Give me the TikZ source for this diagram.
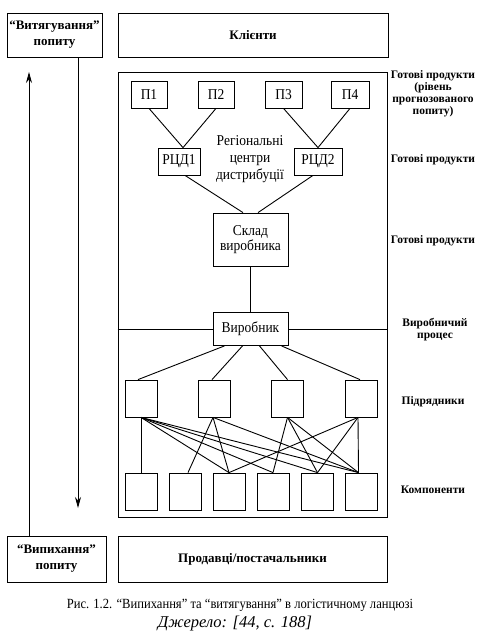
\documentclass[tikz,border=0pt]{standalone}
\usepackage{fontspec}
\setmainfont{Liberation Serif}
\newfontfamily\narrowfont[FakeStretch=0.9]{Liberation Serif}
\usetikzlibrary{arrows.meta,calc}
\begin{document}
\begin{tikzpicture}[x=1pt,y=-1pt,
 bigbox/.style={draw, line width=0.9pt, inner sep=0pt, align=center, font=\bfseries\fontsize{13}{16}\selectfont},
 smallbox/.style={draw, line width=0.8pt, inner sep=0pt, align=center, font=\narrowfont\fontsize{15}{15}\selectfont},
 sq/.style={draw, line width=0.8pt, inner sep=0pt, minimum width=32pt, minimum height=37pt},
 sidelabel/.style={align=center, font=\bfseries\fontsize{11.5}{12}\selectfont, inner sep=0pt},
 link/.style={line width=0.9pt},
 flow/.style={line width=0.8pt, -{Stealth[length=11pt,width=6pt]}}
]
\useasboundingbox (0,0) rectangle (483,642);

% top and bottom boxes
\node[bigbox, minimum width=95pt, minimum height=44pt] (pull) at (54.5,35) {“Витягування”\\попиту};
\node[bigbox, minimum width=270pt, minimum height=44pt] (cli) at (253,35) {Клієнти};
\node[bigbox, minimum width=99pt, minimum height=46pt] (push) at (56.5,559) {“Випихання”\\попиту};
\node[bigbox, minimum width=269pt, minimum height=46pt] (sel) at (252.5,559) {Продавці/постачальники};

% main frame
\node[draw, line width=0.9pt, minimum width=269pt, minimum height=445pt, inner sep=0pt] (main) at (252.5,294.5) {};

% products
\node[smallbox, minimum width=36pt, minimum height=27pt] (p1) at (149,94.5) {П1};
\node[smallbox, minimum width=36pt, minimum height=27pt] (p2) at (216,94.5) {П2};
\node[smallbox, minimum width=37pt, minimum height=27pt] (p3) at (283.5,94.5) {П3};
\node[smallbox, minimum width=38pt, minimum height=27pt] (p4) at (350,94.5) {П4};

% regional centres
\node[smallbox, minimum width=42pt, minimum height=27pt] (r1) at (179,161.5) {РЦД1};
\node[smallbox, minimum width=48pt, minimum height=27pt] (r2) at (318,161.5) {РЦД2};
\node[align=center, inner sep=0pt, font=\narrowfont\fontsize{15}{17}\selectfont] (reg) at (250,159) {Регіональні\\центри\\дистрибуції};

% warehouse and producer
\node[smallbox, minimum width=75pt, minimum height=53pt] (sk) at (250.5,239.5) {Склад\\виробника};
\node[smallbox, minimum width=75pt, minimum height=33pt] (vy) at (250.5,329) {Виробник};

% subcontractors
\node[sq] (s1) at (141,398.5) {};
\node[sq] (s2) at (214,398.5) {};
\node[sq] (s3) at (287.5,398.5) {};
\node[sq] (s4) at (361,398.5) {};

% components
\node[sq] (c1) at (141,491.5) {};
\node[sq] (c2) at (185,491.5) {};
\node[sq] (c3) at (229,491.5) {};
\node[sq] (c4) at (273,491.5) {};
\node[sq] (c5) at (317.5,491.5) {};
\node[sq] (c6) at (361.5,491.5) {};

% side labels
\node[sidelabel] (l1) at (433,94) {Готові продукти\\(рівень\\прогнозованого\\попиту)};
\node[sidelabel] (l2) at (433,160) {Готові продукти};
\node[sidelabel] (l3) at (433,241) {Готові продукти};
\node[sidelabel] (l4) at (435,330) {Виробничий\\процес};
\node[sidelabel] (l5) at (433,402) {Підрядники};
\node[sidelabel] (l6) at (433,490) {Компоненти};

% caption
\node[inner sep=0pt, font=\narrowfont\fontsize{14}{16}\selectfont] (cap) at (240,605) {Рис. 1.2. “Випихання” та “витягування” в логістичному ланцюзі};
\node[inner sep=0pt, font=\itshape\fontsize{16.5}{18}\selectfont] (src) at (235,624) {Джерело: [44, с. 188]};

% connectors
\draw[link] (p1.south) -- ([xshift=4pt]r1.north);
\draw[link] (p2.south) -- ([xshift=4pt]r1.north);
\draw[link] (p3.south) -- (r2.north);
\draw[link] (p4.south) -- (r2.north);
\draw[link] ([xshift=6pt]r1.south) -- ([xshift=-7.5pt]sk.north);
\draw[link] ([xshift=-5pt]r2.south) -- ([xshift=7.5pt]sk.north);
\draw[link] (sk.south) -- (vy.north);
\draw[link] (main.west |- vy.west) -- (vy.west);
\draw[link] (vy.east) -- (main.east |- vy.east);

\draw[link] ([xshift=-26pt]vy.south) -- ([xshift=-3pt]s1.north);
\draw[link] ([xshift=-8pt]vy.south) -- ([xshift=-2pt]s2.north);
\draw[link] ([xshift=9pt]vy.south) -- (s3.north);
\draw[link] ([xshift=31pt]vy.south) -- ([xshift=-1pt]s4.north);

\draw[link] (s1.south) -- (c1.north);
\draw[link] (s1.south) -- (c3.north);
\draw[link] (s1.south) -- (c4.north);
\draw[link] (s1.south) -- (c5.north);
\draw[link] (s1.south) -- ([xshift=-3pt]c6.north);
\draw[link] ([xshift=-1pt]s2.south) -- ([xshift=3pt]c2.north);
\draw[link] ([xshift=-1pt]s2.south) -- (c3.north);
\draw[link] ([xshift=-1pt]s2.south) -- ([xshift=-3pt]c6.north);
\draw[link] (s3.south) -- (c4.north);
\draw[link] (s3.south) -- (c5.north);
\draw[link] (s3.south) -- ([xshift=-3pt]c6.north);
\draw[link] ([xshift=-3pt]s4.south) -- (c3.north);
\draw[link] ([xshift=-3pt]s4.south) -- (c5.north);
\draw[link] ([xshift=-3pt]s4.south) -- ([xshift=-3pt]c6.north);

% flow arrows
\coordinate (dtip) at (78,508);
\coordinate (utip) at (29,72);
\draw[flow] (dtip |- pull.south) -- (dtip);
\draw[flow] (utip |- push.north) -- (utip);
\end{tikzpicture}
\end{document}
